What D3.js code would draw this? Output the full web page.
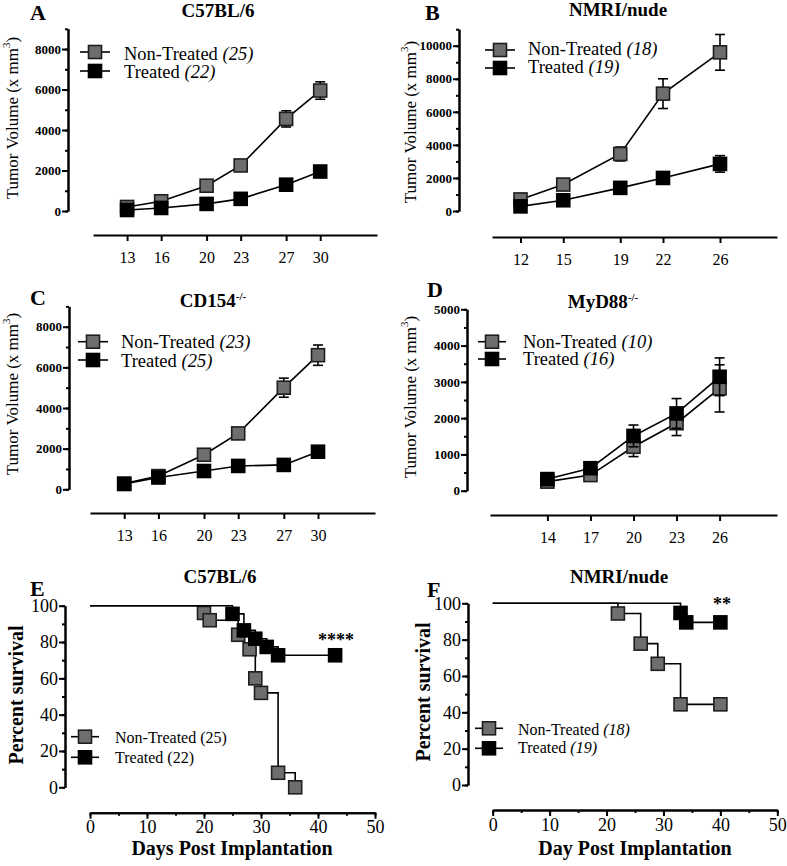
<!DOCTYPE html>
<html>
<head>
<meta charset="utf-8">
<script src="https://cdn.jsdelivr.net/npm/d3@7"></script>
<style>
  body { margin: 0; background: #fff; }
  svg text { font-family: "Liberation Serif", "Times New Roman", serif !important; fill: #000; }
</style>
</head>
<body>
<div id="fig"></div>
<script>
// ---- tumour volume data (mean, sem) ----
var daysA = [13, 16, 20, 23, 27, 30];
var ntA = [200, 480, 1250, 2250, 4550, 5950];
var ntErrA = [60, 80, 120, 150, 400, 430];
var trA = [50, 150, 350, 600, 1300, 1950];
var trErrA = [30, 40, 60, 80, 120, 200];

var daysB = [12, 15, 19, 22, 26];
var ntB = [700, 1600, 3450, 7100, 9600];
var ntErrB = [100, 150, 420, 900, 1080];
var trB = [280, 650, 1400, 2000, 2850];
var trErrB = [50, 80, 120, 150, 500];

var daysC = [13, 16, 20, 23, 27, 30];
var ntC = [280, 650, 1700, 2750, 5000, 6600];
var ntErrC = [50, 80, 120, 150, 470, 500];
var trC = [260, 580, 900, 1150, 1200, 1850];
var trErrC = [40, 60, 80, 100, 120, 200];

var daysD = [14, 17, 20, 23, 26];
var ntD = [250, 430, 1210, 1860, 2820];
var ntErrD = [60, 80, 270, 340, 650];
var trD = [320, 620, 1510, 2130, 3140];
var trErrD = [60, 80, 300, 410, 520];

// ---- survival data (Kaplan-Meier steps) ----
var survDaysNtE = [0, 20, 21, 26, 28, 29, 30, 33, 36];
var survNtE = [100, 96, 92, 84, 76, 60, 52, 8, 0];
var survDaysTrE = [0, 25, 27, 29, 31, 33, 43];
var survTrE = [100, 95.5, 86.4, 81.8, 77.3, 72.7, 72.7];

var survDaysNtF = [0, 22, 26, 29, 33, 40];
var survNtF = [100, 94.4, 77.8, 66.7, 44.4, 44.4];
var survDaysTrF = [0, 33, 34, 40];
var survTrF = [100, 94.7, 89.5, 89.5];

var serif = "\"Liberation Serif\", \"Times New Roman\", serif";
var ntFill = "#6e6e6e", ntStroke = "#1e1e1e";
var msize = 13;

var svg = d3.select("#fig").append("svg")
    .attr("width", 787)
    .attr("height", 866)
    .attr("font-family", serif);

function square(g, x, y, fill, stroke) {
    g.append("rect")
        .attr("x", x - msize / 2).attr("y", y - msize / 2)
        .attr("width", msize).attr("height", msize)
        .attr("fill", fill).attr("stroke", stroke).attr("stroke-width", 1.6);
}

function legend(o) {
    var rows = [
        {label: "Non-Treated", n: o.nNt, fill: ntFill, stroke: ntStroke, my: o.legY[0], ty: o.legT[0]},
        {label: "Treated", n: o.nTr, fill: "#000", stroke: "#000", my: o.legY[1], ty: o.legT[1]}
    ];
    rows.forEach(function (r) {
        svg.append("line")
            .attr("x1", o.legX - o.legHalf).attr("x2", o.legX + o.legHalf)
            .attr("y1", r.my).attr("y2", r.my)
            .attr("stroke", "#000").attr("stroke-width", 1.6);
        square(svg, o.legX, r.my, r.fill, r.stroke);
        var t = svg.append("text")
            .attr("x", o.legTextX).attr("y", r.ty)
            .style("font-size", o.legFont + "px")
            .text(r.label + " ");
        t.append("tspan")
            .style("font-style", o.italicN ? "italic" : "normal")
            .text("(" + r.n + ")");
    });
}

function heading(o) {
    var t = svg.append("text")
        .attr("x", o.titleX).attr("y", o.titleY)
        .attr("text-anchor", "middle")
        .style("font-size", "19px").style("font-weight", "bold")
        .text(o.title);
    if (o.titleSup)
        t.append("tspan").attr("dy", -7).style("font-size", "11px").text(o.titleSup);
    svg.append("text")
        .attr("x", o.letterX).attr("y", o.letterY)
        .style("font-size", "22px").style("font-weight", "bold")
        .text(o.letter);
}

function styleAxis(ax) {
    ax.attr("font-family", null);
    ax.select(".domain").attr("stroke", "#000").attr("stroke-width", 2);
    ax.selectAll(".tick line").attr("stroke", "#000").attr("stroke-width", 2);
    ax.selectAll("text").attr("fill", "#000").style("font-family", serif);
}

function growthPlot(o) {
    var x = d3.scaleLinear().domain(o.xDomain).range(o.xRange);
    var y = d3.scaleLinear().domain([0, o.yMax]).range(o.yRange);

    // y axis, minor ticks first
    var yMinor = svg.append("g").attr("transform", "translate(" + o.axisX + ",0)")
        .call(d3.axisLeft(y).tickValues(d3.range(0, o.yMax + 1, o.yMinor)).tickSize(3).tickSizeOuter(0).tickFormat(""));
    styleAxis(yMinor);
    var yAx = svg.append("g").attr("transform", "translate(" + o.axisX + ",0)")
        .call(d3.axisLeft(y).tickValues(d3.range(0, o.yMax + 1, o.yStep)).tickSize(6).tickSizeOuter(0)
            .tickPadding(1).tickFormat(d3.format("d")));
    styleAxis(yAx);
    yAx.selectAll("text").style("font-size", "13px").style("font-weight", "bold");

    var xAx = svg.append("g").attr("transform", "translate(0," + o.xAxisY + ")")
        .call(d3.axisBottom(x).tickValues(o.days).tickSize(6).tickSizeOuter(0).tickPadding(11));
    styleAxis(xAx);
    xAx.selectAll("text").style("font-size", "16px");

    var lab = svg.append("text")
        .attr("transform", "translate(" + o.ylabX + "," + o.ylabY + ") rotate(-90)")
        .attr("text-anchor", "middle").attr("dominant-baseline", "central")
        .style("font-size", "17px")
        .text("Tumor Volume (x mm");
    lab.append("tspan").attr("dy", -6).style("font-size", "11px").text("3");
    lab.append("tspan").attr("dy", 6).text(")");

    var line = d3.line().x(function (d) { return x(d[0]); }).y(function (d) { return y(d[1]); });
    var series = [
        {m: o.nt, e: o.ntErr, fill: ntFill, stroke: ntStroke},
        {m: o.tr, e: o.trErr, fill: "#000", stroke: "#000"}
    ];
    series.forEach(function (s) {
        var g = svg.append("g");
        var pts = o.days.map(function (d, i) { return [d, s.m[i]]; });
        g.append("path").datum(pts).attr("d", line)
            .attr("fill", "none").attr("stroke", "#000").attr("stroke-width", 1.6);
        o.days.forEach(function (d, i) {
            var cx = x(d), lo = y(s.m[i] - s.e[i]), hi = y(s.m[i] + s.e[i]);
            g.append("line").attr("x1", cx).attr("x2", cx).attr("y1", lo).attr("y2", hi)
                .attr("stroke", "#000").attr("stroke-width", 1.6);
            [lo, hi].forEach(function (yy) {
                g.append("line").attr("x1", cx - 5).attr("x2", cx + 5).attr("y1", yy).attr("y2", yy)
                    .attr("stroke", "#000").attr("stroke-width", 1.6);
            });
        });
        o.days.forEach(function (d, i) { square(g, x(d), y(s.m[i]), s.fill, s.stroke); });
    });

    heading(o);
    legend(o);
}

function survivalPlot(o) {
    var x = d3.scaleLinear().domain([0, 50]).range(o.xRange);
    var y = d3.scaleLinear().domain([0, 100]).range(o.yRange);

    var yMinor = svg.append("g").attr("transform", "translate(" + o.axisX + ",0)")
        .call(d3.axisLeft(y).tickValues(d3.range(0, 101, 10)).tickSize(3).tickSizeOuter(0).tickFormat(""));
    styleAxis(yMinor);
    var yAx = svg.append("g").attr("transform", "translate(" + o.axisX + ",0)")
        .call(d3.axisLeft(y).tickValues(d3.range(0, 101, 20)).tickSize(6).tickSizeOuter(0).tickPadding(1));
    styleAxis(yAx);
    yAx.selectAll("text").style("font-size", "18px");

    var xMinor = svg.append("g").attr("transform", "translate(0," + o.xAxisY + ")")
        .call(d3.axisBottom(x).tickValues(d3.range(0, 51, 5)).tickSize(3).tickSizeOuter(0).tickFormat(""));
    styleAxis(xMinor);
    var xAx = svg.append("g").attr("transform", "translate(0," + o.xAxisY + ")")
        .call(d3.axisBottom(x).tickValues(d3.range(0, 51, 10)).tickSize(6).tickSizeOuter(0).tickPadding(2));
    styleAxis(xAx);
    xAx.selectAll("text").style("font-size", "18px");

    svg.append("text")
        .attr("transform", "translate(" + o.ylabX + "," + o.ylabY + ") rotate(-90)")
        .attr("text-anchor", "middle").attr("dominant-baseline", "central")
        .style("font-size", "20px").style("font-weight", "bold")
        .text("Percent survival");
    svg.append("text")
        .attr("x", o.xlabX).attr("y", o.xlabY)
        .attr("text-anchor", "middle")
        .style("font-size", "20px").style("font-weight", "bold")
        .text(o.xlab);

    var step = d3.line().curve(d3.curveStepAfter)
        .x(function (d) { return x(d[0]); }).y(function (d) { return y(d[1]); });
    var series = [
        {d: o.ntDays, v: o.nt, fill: ntFill, stroke: ntStroke},
        {d: o.trDays, v: o.tr, fill: "#000", stroke: "#000"}
    ];
    series.forEach(function (s) {
        var g = svg.append("g");
        var pts = s.d.map(function (d, i) { return [d, s.v[i]]; });
        g.append("path").datum(pts).attr("d", step)
            .attr("fill", "none").attr("stroke", "#000").attr("stroke-width", 1.6);
        pts.slice(1).forEach(function (p) { square(g, x(p[0]), y(p[1]), s.fill, s.stroke); });
    });

    svg.append("text")
        .attr("x", o.starX).attr("y", o.starY)
        .attr("text-anchor", "middle")
        .style("font-size", "18px").style("font-weight", "bold")
        .text(o.stars);

    heading(o);
    legend(o);
}

growthPlot({
    days: daysA, nt: ntA, ntErr: ntErrA, tr: trA, trErr: trErrA,
    xDomain: [10, 35], xRange: [93, 377], yMax: 9000, yStep: 2000, yMinor: 1000,
    yRange: [211, 28.8], axisX: 68, xAxisY: 235, ylabX: 12, ylabY: 118,
    title: "C57BL/6", titleX: 218, titleY: 17, letter: "A", letterX: 30, letterY: 20,
    legX: 95, legHalf: 15, legY: [52, 71], legT: [60, 78], legTextX: 124, legFont: 18.5,
    nNt: 25, nTr: 22, italicN: true
});

growthPlot({
    days: daysB, nt: ntB, ntErr: ntErrB, tr: trB, trErr: trErrB,
    xDomain: [10, 30], xRange: [492, 777], yMax: 11000, yStep: 2000, yMinor: 1000,
    yRange: [211, 29.2], axisX: 459, xAxisY: 237, ylabX: 410, ylabY: 122,
    title: "NMRI/nude", titleX: 618, titleY: 16, letter: "B", letterX: 425, letterY: 20,
    legX: 500, legHalf: 15, legY: [50, 68], legT: [55, 73], legTextX: 528, legFont: 18.5,
    nNt: 18, nTr: 19, italicN: true
});

growthPlot({
    days: daysC, nt: ntC, ntErr: ntErrC, tr: trC, trErr: trErrC,
    xDomain: [10, 35], xRange: [90, 375], yMax: 9000, yStep: 2000, yMinor: 1000,
    yRange: [489.3, 306.4], axisX: 69, xAxisY: 513, ylabX: 12, ylabY: 394,
    title: "CD154", titleSup: "-/-", titleX: 213, titleY: 307, letter: "C", letterX: 30, letterY: 305,
    legX: 93, legHalf: 15, legY: [341.7, 360], legT: [348, 366.5], legTextX: 121, legFont: 18.5,
    nNt: 23, nTr: 25, italicN: true
});

growthPlot({
    days: daysD, nt: ntD, ntErr: ntErrD, tr: trD, trErr: trErrD,
    xDomain: [10, 30], xRange: [490, 777], yMax: 5000, yStep: 1000, yMinor: 500,
    yRange: [490.7, 309.3], axisX: 467, xAxisY: 515, ylabX: 410, ylabY: 397,
    title: "MyD88", titleSup: "-/-", titleX: 603, titleY: 308, letter: "D", letterX: 427, letterY: 297,
    legX: 492, legHalf: 14, legY: [341.7, 359], legT: [348, 365], legTextX: 523, legFont: 18.5,
    nNt: 10, nTr: 16, italicN: true
});

survivalPlot({
    ntDays: survDaysNtE, nt: survNtE, trDays: survDaysTrE, tr: survTrE,
    xRange: [90, 375], yRange: [787.3, 605.7], axisX: 65, xAxisY: 812.7,
    ylabX: 16, ylabY: 695, xlab: "Days Post Implantation", xlabX: 232, xlabY: 855,
    stars: "****", starX: 336, starY: 646,
    title: "C57BL/6", titleX: 220, titleY: 583, letter: "E", letterX: 30, letterY: 596,
    legX: 85, legHalf: 14, legY: [736.7, 757.3], legT: [743, 763], legTextX: 115, legFont: 16,
    nNt: 25, nTr: 22, italicN: false
});

survivalPlot({
    ntDays: survDaysNtF, nt: survNtF, trDays: survDaysTrF, tr: survTrF,
    xRange: [492.7, 777.3], yRange: [785, 603.3], axisX: 468, xAxisY: 810,
    ylabX: 423, ylabY: 692, xlab: "Day Post Implantation", xlabX: 635, xlabY: 855,
    stars: "**", starX: 722, starY: 610,
    title: "NMRI/nude", titleX: 619, titleY: 583, letter: "F", letterX: 427, letterY: 597,
    legX: 489, legHalf: 14, legY: [728.3, 748.3], legT: [735, 753], legTextX: 518, legFont: 16,
    nNt: 18, nTr: 19, italicN: true
});
</script>
</body>
</html>
